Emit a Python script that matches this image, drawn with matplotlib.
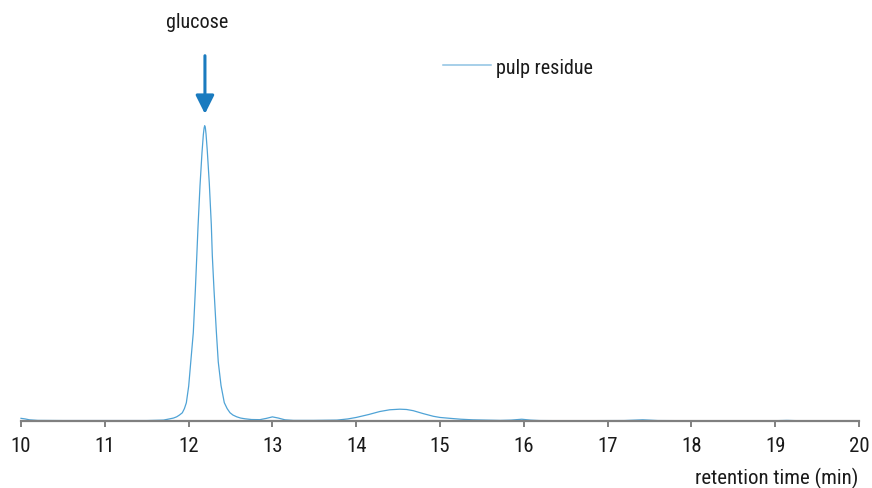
import matplotlib
matplotlib.use("Agg")
import matplotlib.pyplot as plt
from matplotlib import font_manager

names = {f.name for f in font_manager.fontManager.ttflist}
FONT, FS = "Liberation Sans", 13.5
for cand in ["Liberation Sans Narrow", "Arial Narrow", "Roboto Condensed", "Open Sans Condensed"]:
    if cand in names:
        FONT, FS = cand, 15
        break
plt.rcParams["font.family"] = [FONT, "DejaVu Sans"]

# ---- data ----
time_min = [10.00, 10.05, 10.10, 10.20, 10.50, 11.00, 11.50, 11.70, 11.778, 11.82,
            11.858, 11.89, 11.925, 11.95, 11.973, 12.001, 12.025, 12.056, 12.080,
            12.097, 12.112, 12.136, 12.160, 12.176, 12.185, 12.192, 12.200, 12.208,
            12.223, 12.247, 12.271, 12.283, 12.303, 12.331, 12.354, 12.387, 12.426,
            12.46, 12.494, 12.53, 12.574, 12.62, 12.673, 12.75, 12.85,
            12.93, 13.00, 13.07, 13.15, 13.25, 13.50, 13.77, 13.90, 14.00, 14.15,
            14.28, 14.40, 14.52, 14.60, 14.68, 14.80, 14.92, 15.00, 15.12, 15.25,
            15.39, 15.55, 15.72, 15.85, 15.975, 16.08, 16.19, 16.50, 17.20, 17.42,
            17.60, 18.00, 19.00, 19.14, 19.30, 20.00]
signal = [0.9, 0.7, 0.4, 0.2, 0.15, 0.15, 0.15, 0.3, 0.75, 1.0,
          1.42, 2.0, 2.78, 4.2, 6.17, 11.8, 19.74, 29.92, 44.03,
          55.36, 65.54, 79.65, 90.98, 97.0, 99.2, 100.0, 99.3, 97.2,
          91.5, 80.5, 66.5, 56.0, 44.5, 30.3, 20.0, 12.0, 6.2,
          4.2, 2.8, 2.0, 1.42, 1.0, 0.75, 0.5, 0.45,
          0.9, 1.4, 1.0, 0.4, 0.2, 0.2, 0.3, 0.7, 1.2, 2.2,
          3.2, 3.8, 4.0, 3.9, 3.5, 2.5, 1.6, 1.2, 0.9, 0.6,
          0.4, 0.3, 0.2, 0.3, 0.6, 0.3, 0.15, 0.1, 0.15, 0.4,
          0.15, 0.1, 0.1, 0.2, 0.08, 0.05]
x_ticks = [10, 11, 12, 13, 14, 15, 16, 17, 18, 19, 20]
series_name = "pulp residue"
peak_label = "glucose"
peak_time = 12.195
x_label = "retention time (min)"

W, H = 872, 489
fig = plt.figure(figsize=(W / 100, H / 100), dpi=100)
ax = fig.add_axes([21 / W, (H - 422) / H, (859 - 21) / W, 392 / H])

LINE_C = "#4fa3d6"
ax.plot(time_min, signal, color=LINE_C, lw=0.9, label=series_name, clip_on=False)
ax.set_xlim(10, 20)
ax.set_ylim(0, 132.75)

for s in ("top", "right", "left"):
    ax.spines[s].set_visible(False)
ax.spines["bottom"].set_color("#808080")
ax.spines["bottom"].set_linewidth(1.6)
ax.set_yticks([])
ax.set_xticks(x_ticks)
ax.tick_params(axis="x", direction="out", length=4.5, width=1.4, color="#808080",
               labelsize=FS, labelcolor="#1a1a1a", pad=6.5)

# arrow annotation
ax.annotate("", xy=(peak_time, 104.0), xytext=(peak_time, 123.7),
            arrowprops=dict(arrowstyle="-|>,head_length=0.8,head_width=0.4",
                            mutation_scale=14, lw=2.2, color="#1a7bbf",
                            shrinkA=0, shrinkB=0), annotation_clip=False)
fig.text(197.5 / W, 1 - 27.7 / H, peak_label, ha="center", va="baseline",
         fontsize=FS - 0.5, color="#1a1a1a")

fig.text(858 / W, 1 - 484 / H, x_label, ha="right", va="baseline",
         fontsize=FS, color="#1a1a1a")

leg = ax.legend(loc="center left", bbox_to_anchor=(443 / W, 1 - 68 / H),
                bbox_transform=fig.transFigure, frameon=False, borderpad=0,
                handlelength=50 / (FS * 1.389), handletextpad=5 / (FS * 1.389),
                fontsize=FS - 0.5, borderaxespad=0)
for t in leg.get_texts():
    t.set_color("#1a1a1a")
for h in leg.get_lines():
    h.set_color("#8ec2e3")
    h.set_linewidth(1.1)

fig.savefig("out.png", dpi=100)
